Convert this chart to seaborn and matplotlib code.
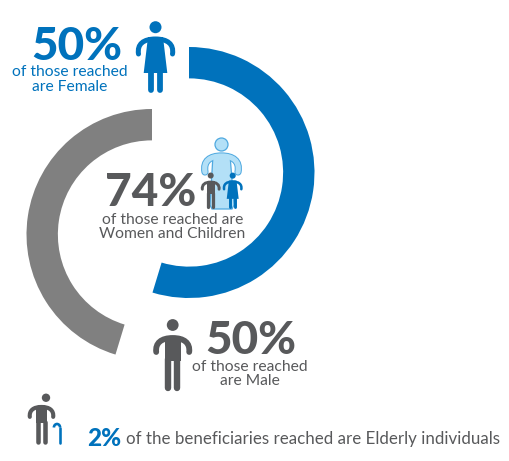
"""Reach infographic: two offset rings with pictograms."""
import matplotlib.pyplot as plt
from matplotlib.patches import Circle, Polygon, PathPatch, Arc
from matplotlib.path import Path
import seaborn as sns

W, H = 509, 461
BLUE = "#0072bc"
GREY = "#808080"
DARK = "#58595b"
LIGHT = "#b3e0f7"
EDGE = "#4fa9e0"

ring_labels = ["Female", "Male"]
ring_shares = [54.7, 45.3]
ring_rest = [45.3, 54.7]
female_pct = "50%"
male_pct = "50%"
women_children_pct = "74%"
elderly_pct = "2%"

sns.set_theme(style="white")
plt.rcParams["font.family"] = ["Lato", "DejaVu Sans"]

fig = plt.figure(figsize=(W / 100, H / 100), dpi=100)
ax = fig.add_axes([0, 0, 1, 1])
ax.set_xlim(0, W)
ax.set_ylim(H, 0)
ax.axis("off")


def ring(cx, cy, r, share, rest, color, counterclock):
    rax = fig.add_axes([(cx - r) / W, 1 - (cy + r) / H, 2 * r / W, 2 * r / H], zorder=-1)
    rax.pie([share, rest], colors=[color, "none"], startangle=90, counterclock=counterclock,
            radius=1, wedgeprops={"width": 0.25, "linewidth": 0})
    rax.set_xlim(-1, 1)
    rax.set_ylim(-1, 1)


ring(189, 172.5, 125.5, ring_shares[0], ring_rest[0], BLUE, False)
ring(152, 234.5, 125.5, ring_shares[1], ring_rest[1], GREY, True)


def px(width):
    return width * 0.72


def limb(x0, y0, x1, y1, w, color, z=3):
    ax.plot([x0, x1], [y0, y1], color=color, lw=px(w), solid_capstyle="round", zorder=z)


def arch(cx, top, s, half, hand_y, top_y, w, color, z=3, bulge=0.0):
    # shoulders and arms as one thick curved stroke
    codes = [Path.MOVETO, Path.CURVE4, Path.CURVE4, Path.CURVE4, Path.CURVE4, Path.CURVE4, Path.CURVE4]
    pts = [(-half, hand_y), (-half - bulge, top_y + 5), (-half + 5, top_y), (0, top_y),
           (half - 5, top_y), (half + bulge, top_y + 5), (half, hand_y)]
    verts = [(cx + p[0] * s, top + p[1] * s) for p in pts]
    ax.add_patch(PathPatch(Path(verts, codes), fc="none", ec=color, lw=px(w * s),
                           capstyle="round", zorder=z))


def man(cx, top, h, color, z=3, head_dx=0.0):
    s = h / 72
    ax.add_patch(Circle((cx + head_dx, top + 6 * s), 5.9 * s, color=color, lw=0, zorder=z))
    arch(cx, top, s, 16.5, 33, 19, 5.8, color, z, bulge=1)
    ax.add_patch(Polygon([(cx - 8 * s, top + 17 * s), (cx + 8 * s, top + 17 * s),
                          (cx + 8 * s, top + 42 * s), (cx - 8 * s, top + 42 * s)],
                         closed=True, color=color, lw=0, zorder=z))
    for sign in (-1, 1):
        limb(cx + sign * 4.7 * s, top + 40 * s, cx + sign * 4.7 * s, top + 68.5 * s, 6.4 * s, color, z)


def woman(cx, top, h, color, z=3):
    s = h / 72
    ax.add_patch(Circle((cx, top + 6.2 * s), 6 * s, color=color, lw=0, zorder=z))
    arch(cx, top, s, 17, 33, 18, 5, color, z, bulge=1.5)
    ax.add_patch(Polygon([(cx - 7.5 * s, top + 16 * s), (cx + 7.5 * s, top + 16 * s),
                          (cx + 11.8 * s, top + 52 * s), (cx - 11.8 * s, top + 52 * s)],
                         closed=True, color=color, lw=0, zorder=z))
    for sign in (-1, 1):
        limb(cx + sign * 4.5 * s, top + 50 * s, cx + sign * 4.5 * s, top + 69 * s, 5.8 * s, color, z)


woman(155.5, 21, 72, BLUE)
man(172.7, 319, 72, DARK)
man(41.5, 393.5, 51, DARK, head_dx=4.5)

# walking stick next to the elderly figure
ax.add_patch(Arc((57, 427.5), 6.2, 7, theta1=180, theta2=360, color=BLUE, lw=1.9, zorder=3))
limb(60.1, 427.5, 60.1, 443, 2.6, BLUE)

# mother with two children
ax.add_patch(Circle((221.5, 144.5), 6.5, fc=LIGHT, ec=EDGE, lw=0.9, zorder=2))
arch(221.5, 0, 1.0, 16.5, 172, 156, 7.2, EDGE, 2, bulge=2)
ax.add_patch(Polygon([(213, 155), (230, 155), (234, 205), (232, 209), (212, 209), (210, 205)],
                     closed=True, fc=LIGHT, ec=EDGE, lw=0.9, zorder=2))
arch(221.5, 0, 1.0, 16.5, 172, 156, 5.2, LIGHT, 2, bulge=2)
man(210.7, 172.5, 36.5, DARK, z=4)
woman(232.7, 172.5, 36.5, BLUE, z=4)

big = {"fontsize": 33, "fontweight": "black", "ha": "center", "va": "baseline"}
small = {"fontsize": 11.25, "ha": "center", "va": "center"}

ax.text(77, 59.5, female_pct, color=BLUE, **big)
ax.text(69.5, 72, "of those reached", color=BLUE, **small)
ax.text(69.5, 87, "are Female", color=BLUE, **small)

ax.text(151, 206, women_children_pct, color=DARK, **big)
ax.text(172.5, 220, "of those reached are", color=DARK, **small)
ax.text(172.5, 234, "Women and Children", color=DARK, **small)

ax.text(251, 354, male_pct, color=DARK, **big)
ax.text(250, 367, "of those reached", color=DARK, **small)
ax.text(250, 381, "are Male", color=DARK, **small)

ax.text(87, 438, elderly_pct, color=BLUE, fontsize=17.5, fontweight="black", ha="left", va="center")
ax.text(126, 439, "of the beneficiaries reached are Elderly individuals", color=DARK,
        fontsize=12.2, ha="left", va="center")

fig.savefig("out.png", dpi=100)
